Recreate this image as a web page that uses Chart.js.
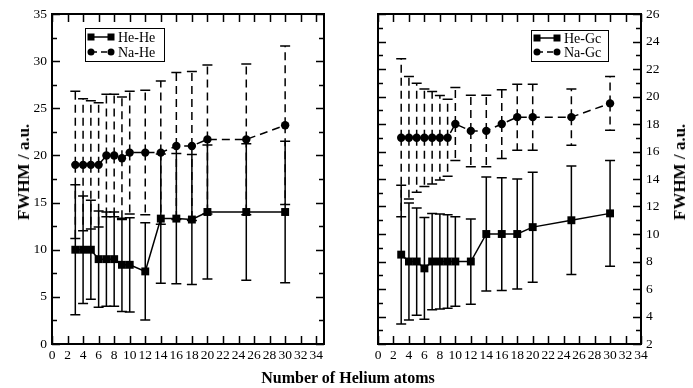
<!DOCTYPE html>
<html>
<head>
<meta charset="utf-8">
<script src="https://cdn.jsdelivr.net/npm/chart.js@4.4.0/dist/chart.umd.min.js"></script>
<style>
    body { margin: 0; background: #fff; }
    #wrap { position: relative; width: 693px; height: 388px; font-family: "Liberation Serif", "Times New Roman", serif; color: #000; }
    canvas { position: absolute; top: 0; }
    #leftChart { left: 0; }
    #rightChart { left: 346px; }
    .ytitle { position: absolute; font-weight: bold; font-size: 17px; white-space: nowrap; transform: translate(-50%, -50%) rotate(-90deg); }
    #xtitle { position: absolute; left: 348px; top: 378px; font-weight: bold; font-size: 16px; white-space: nowrap; transform: translate(-50%, -50%); }
</style>
</head>
<body>
<div id="wrap">
    <canvas id="leftChart" width="346" height="388"></canvas>
    <canvas id="rightChart" width="347" height="388"></canvas>
    <div class="ytitle" style="left:24px; top:172px;">FWHM / a.u.</div>
    <div class="ytitle" style="left:680px; top:172px;">FWHM / a.u.</div>
    <div id="xtitle">Number of Helium atoms</div>
</div>
<script>
// number of helium atoms
const nHe = [3, 4, 5, 6, 7, 8, 9, 10, 12, 14, 16, 18, 20, 25, 30];

// left panel
const heHe = [10, 10, 10, 9, 9, 9, 8.4, 8.4, 7.7, 13.3, 13.3, 13.2, 14, 14, 14];
const heHeErr = [6.9, 5.7, 5.25, 5.1, 5.0, 5.0, 4.95, 5.0, 5.15, 6.85, 6.9, 6.9, 7.1, 7.25, 7.5];
const naHe = [19, 19, 19, 19, 20, 20, 19.7, 20.3, 20.3, 20.3, 21, 21, 21.7, 21.7, 23.2];
const naHeErr = [7.8, 7.0, 6.8, 6.6, 6.5, 6.5, 6.5, 6.5, 6.6, 7.6, 7.8, 7.9, 7.9, 8.0, 8.4];

// right panel
const heGc = [8.5, 8, 8, 7.5, 8, 8, 8, 8, 8, 10, 10, 10, 10.5, 11, 11.5];
const heGcErr = [5.05, 4.25, 3.9, 3.7, 3.5, 3.45, 3.4, 3.25, 3.1, 4.15, 4.1, 4.0, 4.0, 3.95, 3.85];
const naGc = [17, 17, 17, 17, 17, 17, 17, 18, 17.5, 17.5, 18, 18.5, 18.5, 18.5, 19.5];
const naGcErr = [5.75, 4.45, 3.97, 3.55, 3.37, 3.07, 2.8, 2.65, 2.6, 2.6, 2.5, 2.4, 2.4, 2.05, 1.95];

// tick labels
const xTicks = [0, 2, 4, 6, 8, 10, 12, 14, 16, 18, 20, 22, 24, 26, 28, 30, 32, 34];
const leftYTicks = [0, 5, 10, 15, 20, 25, 30, 35];
const rightYTicks = [2, 4, 6, 8, 10, 12, 14, 16, 18, 20, 22, 24, 26];

const tickFont = { family: "'Liberation Serif', 'Times New Roman', serif", size: 13.5 };
const DASH = [8, 5];

function points(ys) {
    return nHe.map((x, i) => ({ x: x, y: ys[i] }));
}

function series(label, ys, errs, dashed) {
    return {
        label: label,
        data: points(ys),
        errors: errs,
        borderColor: '#000',
        backgroundColor: '#000',
        borderWidth: 1.5,
        borderDash: dashed ? DASH : [],
        pointStyle: dashed ? 'circle' : 'rect',
        pointRadius: dashed ? 4.2 : 5.6,
        pointBorderWidth: 0,
        pointBackgroundColor: '#000',
        tension: 0,
        fill: false
    };
}

// frame with inward ticks, error bars and the boxed legend
const framePlugin = {
    id: 'frame',
    beforeDatasetsDraw(chart) {
        const ctx = chart.ctx;
        const xs = chart.scales.x, ys = chart.scales.y;
        ctx.save();
        ctx.strokeStyle = '#000';
        ctx.lineWidth = 1.5;
        chart.data.datasets.forEach(ds => {
            const dashed = ds.borderDash.length > 0;
            ds.data.forEach((p, j) => {
                const e = ds.errors[j];
                const px = xs.getPixelForValue(p.x);
                const top = ys.getPixelForValue(p.y + e);
                const bot = ys.getPixelForValue(p.y - e);
                ctx.setLineDash(dashed ? DASH : []);
                ctx.beginPath();
                ctx.moveTo(px, ys.getPixelForValue(p.y));
                ctx.lineTo(px, top);
                ctx.moveTo(px, ys.getPixelForValue(p.y));
                ctx.lineTo(px, bot);
                ctx.stroke();
                ctx.setLineDash([]);
                ctx.beginPath();
                ctx.moveTo(px - 5, top); ctx.lineTo(px + 5, top);
                ctx.moveTo(px - 5, bot); ctx.lineTo(px + 5, bot);
                ctx.stroke();
            });
        });
        ctx.restore();
    },
    afterDatasetsDraw(chart, args, opts) {
        const ctx = chart.ctx;
        const a = chart.chartArea;
        const xs = chart.scales.x, ys = chart.scales.y;
        ctx.save();
        ctx.strokeStyle = '#000';
        ctx.setLineDash([]);
        ctx.lineWidth = 1.5;
        ctx.beginPath();
        for (let v = xs.min; v <= xs.max; v += opts.xStep) {
            const px = Math.round(xs.getPixelForValue(v)) + 0.5;
            ctx.moveTo(px, a.bottom); ctx.lineTo(px, a.bottom - 8);
            ctx.moveTo(px, a.top); ctx.lineTo(px, a.top + 8);
        }
        for (let v = ys.min; v <= ys.max + 1e-9; v += opts.yMinor) {
            const py = Math.round(ys.getPixelForValue(v)) + 0.5;
            const major = Math.abs(v / opts.yMajor - Math.round(v / opts.yMajor)) < 1e-6;
            const len = major ? 8 : 5;
            ctx.moveTo(a.left, py); ctx.lineTo(a.left + len, py);
            ctx.moveTo(a.right, py); ctx.lineTo(a.right - len, py);
        }
        ctx.stroke();
        ctx.lineWidth = 2;
        ctx.strokeRect(a.left, a.top, a.right - a.left, a.bottom - a.top);

        // legend
        const lg = opts.legend;
        ctx.lineWidth = 1;
        ctx.strokeRect(lg.x + 0.5, lg.y + 0.5, lg.w, lg.h);
        ctx.font = "14px 'Liberation Serif', 'Times New Roman', serif";
        ctx.fillStyle = '#000';
        ctx.textBaseline = 'middle';
        chart.data.datasets.forEach((ds, i) => {
            const yy = lg.y + lg.rows[i];
            const x0 = lg.x + 6, x1 = lg.x + 26;
            const dashed = ds.borderDash.length > 0;
            ctx.lineWidth = 1.5;
            ctx.setLineDash(dashed ? [6, 4] : []);
            ctx.beginPath();
            ctx.moveTo(x0, yy); ctx.lineTo(x1, yy);
            ctx.stroke();
            ctx.setLineDash([]);
            [x0, x1].forEach(mx => {
                if (dashed) {
                    ctx.beginPath(); ctx.arc(mx, yy, 3.5, 0, Math.PI * 2); ctx.fill();
                } else {
                    ctx.fillRect(mx - 3.5, yy - 3.5, 7, 7);
                }
            });
            ctx.fillText(ds.label, lg.x + 33, yy + 1);
        });
        ctx.restore();
    }
};

function makeChart(id, cfg) {
    const ctx = document.getElementById(id).getContext('2d');
    return new Chart(ctx, {
        type: 'line',
        data: { datasets: cfg.datasets },
        options: {
            responsive: false,
            animation: false,
            layout: { padding: cfg.padding },
            plugins: {
                legend: { display: false },
                tooltip: { enabled: false },
                frame: cfg.frame
            },
            scales: {
                x: {
                    type: 'linear',
                    min: 0,
                    max: cfg.xMax,
                    grid: { display: false, drawTicks: false },
                    border: { display: false },
                    afterBuildTicks: s => { s.ticks = xTicks.map(v => ({ value: v })); },
                    afterFit: s => { s.height = 44; },
                    ticks: { color: '#000', font: tickFont, padding: 3, maxRotation: 0, autoSkip: false }
                },
                y: {
                    type: 'linear',
                    position: cfg.yPos,
                    min: cfg.yMin,
                    max: cfg.yMax,
                    grid: { display: false, drawTicks: false },
                    border: { display: false },
                    afterBuildTicks: s => { s.ticks = cfg.yTicks.map(v => ({ value: v })); },
                    afterFit: s => { s.width = 52; },
                    ticks: { color: '#000', font: tickFont, padding: 5, autoSkip: false }
                }
            }
        },
        plugins: [framePlugin]
    });
}

makeChart('leftChart', {
    datasets: [series('He-He', heHe, heHeErr, false), series('Na-He', naHe, naHeErr, true)],
    padding: { top: 14, right: 22, left: 0, bottom: 0 },
    xMax: 35,
    yPos: 'left',
    yMin: 0,
    yMax: 35,
    yTicks: leftYTicks,
    frame: { xStep: 2, yMinor: 2.5, yMajor: 5, legend: { x: 85, y: 28, w: 79, h: 33, rows: [9, 24] } }
});

makeChart('rightChart', {
    datasets: [series('He-Gc', heGc, heGcErr, false), series('Na-Gc', naGc, naGcErr, true)],
    padding: { top: 14, right: 0, left: 32, bottom: 0 },
    xMax: 34,
    yPos: 'right',
    yMin: 2,
    yMax: 26,
    yTicks: rightYTicks,
    frame: { xStep: 2, yMinor: 1, yMajor: 2, legend: { x: 185, y: 30, w: 77, h: 31, rows: [8, 22] } }
});
</script>
</body>
</html>
